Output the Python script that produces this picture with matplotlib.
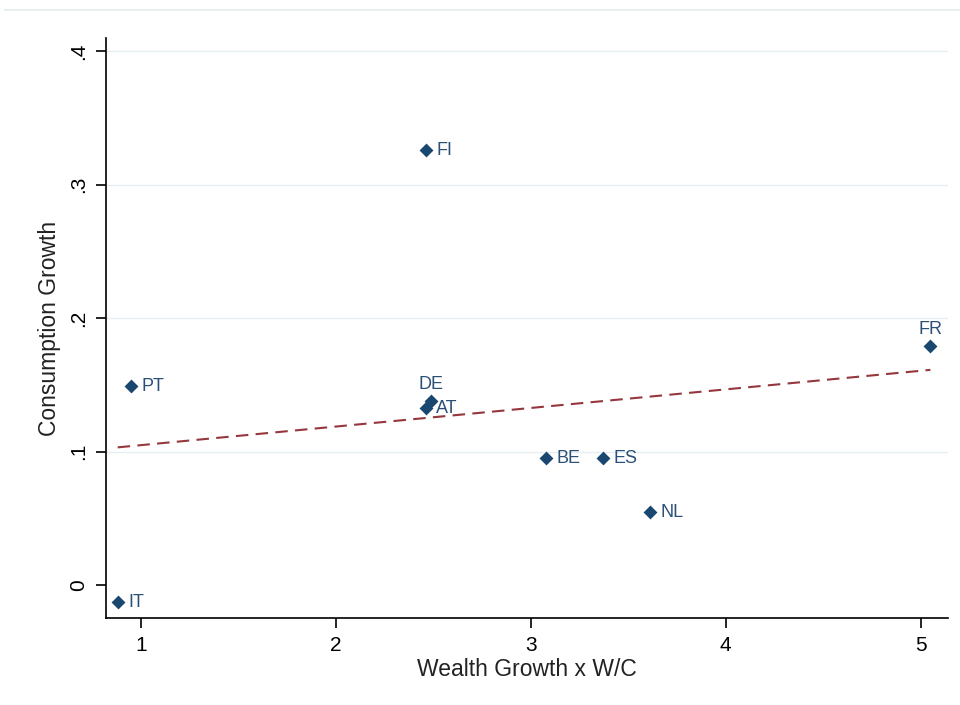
import numpy as np
import matplotlib
matplotlib.use("Agg")
import matplotlib.pyplot as plt
from matplotlib.lines import Line2D

plt.rcParams['font.family'] = ['Liberation Sans', 'DejaVu Sans']

# country points
countries = ["FI", "FR", "PT", "DE", "AT", "BE", "ES", "NL", "IT"]
wealth_growth = [2.46, 5.05, 0.95, 2.49, 2.46, 3.08, 3.37, 3.61, 0.88]
cons_growth = [0.326, 0.179, 0.149, 0.138, 0.133, 0.095, 0.095, 0.055, -0.013]
# labels placed above the marker instead of to the right
label_above = ["DE", "FR"]

x_ticks = [1, 2, 3, 4, 5]
y_ticks = [0, 0.1, 0.2, 0.3, 0.4]
y_tick_labels = ["0", ".1", ".2", ".3", ".4"]

navy = "#1a476f"
label_col = "#2a5078"
maroon = "#95373d"

fig = plt.figure(figsize=(9.6, 7.05), dpi=100)
ax = fig.add_axes([0.1104, 0.1234, 0.877, 0.8227])

# horizontal grid
for yt in y_ticks[1:]:
    ax.axhline(yt, color="#e6eff0", lw=1.0, zorder=0)

# OLS fitted line
xs = np.array(wealth_growth)
ys = np.array(cons_growth)
b, a = np.polyfit(xs, ys, 1)
xl = np.linspace(xs.min(), xs.max(), 50)
ax.plot(xl, a + b * xl, color=maroon, lw=1.5, dashes=(6, 3.5), zorder=2)

ax.scatter(xs, ys, marker="D", s=50, color=navy, zorder=3, linewidths=0)

for c, x, y in zip(countries, wealth_growth, cons_growth):
    if c in label_above:
        ax.annotate(c, (x, y), xytext=(0, 6), textcoords="offset points",
                    ha="center", va="bottom", color=label_col, fontsize=13)
    else:
        ax.annotate(c, (x, y), xytext=(7.5, -0.5), textcoords="offset points",
                    ha="left", va="center", color=label_col, fontsize=13)

ax.set_xlim(0.82, 5.14)
ax.set_ylim(-0.0248, 0.41)
ax.set_xticks(x_ticks)
ax.set_yticks(y_ticks)
ax.set_yticklabels(y_tick_labels, rotation=90, va="center")
ax.tick_params(direction="out", length=7, width=1.2, labelsize=15,
               colors="black", pad=6)

for s in ["top", "right"]:
    ax.spines[s].set_visible(False)
for s in ["left", "bottom"]:
    ax.spines[s].set_linewidth(1.2)

ax.set_xlabel("Wealth Growth x W/C", fontsize=16.5, labelpad=2, color="#222222")
ax.set_ylabel("Consumption Growth", fontsize=16.5, labelpad=6, color="#222222")

# thin rule along the top
fig.add_artist(Line2D([0.005, 1.0], [0.986, 0.986], color="#e8f0ef", lw=1.5,
                      transform=fig.transFigure))

fig.savefig("out.png", dpi=100, facecolor="white")
